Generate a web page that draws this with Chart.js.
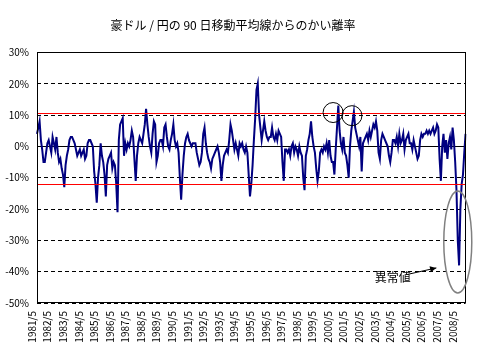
<!DOCTYPE html>
<html><head><meta charset="utf-8">
<script src="https://cdn.jsdelivr.net/npm/chart.js@4/dist/chart.umd.min.js"></script>
<style>html,body{margin:0;padding:0;background:#fff;}#wrap{width:478px;height:355px;}</style>
</head><body><div id="wrap"><canvas id="c" width="478" height="355"></canvas></div>
<script>
const titleText = '豪ドル / 円の 90 日移動平均線からのかい離率';
const yearLabels = ['1981/5','1982/5','1983/5','1984/5','1985/5','1986/5','1987/5','1988/5','1989/5','1990/5',
  '1991/5','1992/5','1993/5','1994/5','1995/5','1996/5','1997/5','1998/5','1999/5','2000/5',
  '2001/5','2002/5','2003/5','2004/5','2005/5','2006/5','2007/5','2008/5'];
// monthly deviation (%) from 90-day MA, each row = May..Apr
const y1981 = [4, 6, 8, 2, -1, -5, -5, -2, 1, 2, 0, -2];
const y1982 = [3, 1, -1, 3, -2, -5, -4, -7, -9, -13, -6, -3];
const y1983 = [-1, 2, 3, 3, 2, 1, -1, -3, -2, -1, -3, -2];
const y1984 = [-1, -4, -3, 1, 2, 2, 1, 0, -8, -12, -18, -10];
const y1985 = [-6, 1, -3, -5, -9, -16, -6, -4, -3, -2, -7, -5];
const y1986 = [-6, -12, -21, 2, 7, 8, 9, -3, 1, -1, 1, 0];
const y1987 = [2, 5, 3, -4, -11, -3, 1, 3, 2, 1, 4, 7];
const y1988 = [12, 7, 3, 0, -2, 4, 8, 7, -5, -3, 1, 2];
const y1989 = [2, 0, 6, 7, 3, 0, -1, 2, 4, 7, 2, 0];
const y1990 = [1, -2, -10, -17, -9, -3, 1, 3, 4, 2, 1, 0];
const y1991 = [1, 1, 1, -2, -4, -6, -5, -2, 4, 6, 1, -2];
const y1992 = [-4, -5, -7, -4, -3, -2, -1, 0, -2, -5, -11, -6];
const y1993 = [-3, -2, -1, -2, 2, 7, 5, 2, -1, 1, -1, -3];
const y1994 = [1, 0, 1, -1, -2, 0, -2, -9, -16, -12, -6, 2];
const y1995 = [9, 18, 20, 10, 6, 2, 5, 8, 5, 3, 2, 3];
const y1996 = [3, 6, 3, 2, 4, 2, 5, 4, 3, -5, -11, -1];
const y1997 = [-1, -2, -1, -3, 0, 1, -2, 0, -1, -3, 0, -2];
const y1998 = [-3, -10, -14, -3, -1, 2, 4, 8, 3, 0, -2, -7];
const y1999 = [-11, -8, -2, -1, -2, 0, -1, 1, -2, 2, -3, -5];
const y2000 = [-5, -9, -1, 6, 13, 5, 1, -1, 3, -2, -3, -6];
const y2001 = [-10, 0, 5, 8, 11, 6, 4, 2, 0, 3, -8, 1];
const y2002 = [2, 3, 4, 2, 5, 3, 5, 7, 6, 8, 5, -2];
const y2003 = [-4, 2, 4, 3, 2, 1, 0, -3, -5, -2, 2, 2];
const y2004 = [1, 3, 0, 4, 1, 2, 4, -1, 2, 3, 4, 1];
const y2005 = [1, -1, 2, 0, -2, -4, -3, 2, 4, 3, 4, 4];
const y2006 = [5, 4, 5, 4, 5, 6, 4, 5, 7, 6, -4, -11];
const y2007 = [0, 4, -2, 2, -4, 1, 3, -1, 6, 2, -5, -14];
const y2008 = [-30, -38, -20, -12, -9, -2, 4];
const deviation = [].concat(y1981,y1982,y1983,y1984,y1985,y1986,y1987,y1988,y1989,y1990,
  y1991,y1992,y1993,y1994,y1995,y1996,y1997,y1998,y1999,y2000,
  y2001,y2002,y2003,y2004,y2005,y2006,y2007,y2008);
const startYear = 1981, startMonth = 5;
const categories = deviation.map((_, i) => {
  const m = startMonth - 1 + i;
  return (startYear + Math.floor(m / 12)) + '/' + (m % 12 + 1);
});
const upperRef = 10.8, lowerRef = -11.9;
const yMin = -50, yMax = 30, yStep = 10;
// annotations: [category index, value]
const circleMarks = [[228, 10.8], [242.5, 9.8]];
const ellipseMark = [324, -30.5];
const noteText = '異常値';
const notePos = [274, -41.9];
const arrowFrom = [285, -40.9], arrowTo = [307.5, -38.8];

const FONT = '"Noto Sans CJK JP", "DejaVu Sans", sans-serif';

const overlay = {
  id: 'overlay',
  beforeDatasetsDraw(chart) {
    const {ctx, chartArea: a, scales: {y}} = chart;
    const py = Math.round(y.getPixelForValue(0)) + 0.5;
    ctx.save();
    ctx.strokeStyle = '#000'; ctx.lineWidth = 1;
    ctx.beginPath(); ctx.moveTo(a.left, py); ctx.lineTo(a.right, py); ctx.stroke();
    ctx.restore();
  },
  afterDatasetsDraw(chart) {
    const {ctx, chartArea: a, scales: {x, y}} = chart;
    const px = v => x.getPixelForValue(v);
    const py = v => y.getPixelForValue(v);
    ctx.save();
    ctx.strokeStyle = '#ff0000'; ctx.lineWidth = 1;
    [upperRef, lowerRef].forEach(v => {
      const yy = Math.round(py(v)) + 0.5;
      ctx.beginPath(); ctx.moveTo(a.left, yy); ctx.lineTo(a.right, yy); ctx.stroke();
    });
    ctx.strokeStyle = '#000'; ctx.lineWidth = 1;
    ctx.strokeRect(Math.round(a.left) + 0.5, Math.round(a.top) + 0.5,
      Math.round(a.right - a.left) - 1, Math.round(a.bottom - a.top) - 1);
    circleMarks.forEach(([cx, cy]) => {
      ctx.beginPath(); ctx.arc(px(cx), py(cy), 10, 0, Math.PI * 2); ctx.stroke();
    });
    ctx.strokeStyle = '#808080'; ctx.lineWidth = 1.5;
    ctx.beginPath(); ctx.ellipse(px(ellipseMark[0]), py(ellipseMark[1]), 14, 51, 0, 0, Math.PI * 2); ctx.stroke();
    const x1 = px(arrowFrom[0]), y1 = py(arrowFrom[1]), x2 = px(arrowTo[0]), y2 = py(arrowTo[1]);
    ctx.strokeStyle = '#000'; ctx.fillStyle = '#000'; ctx.lineWidth = 1;
    ctx.beginPath(); ctx.moveTo(x1, y1); ctx.lineTo(x2, y2); ctx.stroke();
    const ang = Math.atan2(y2 - y1, x2 - x1);
    ctx.beginPath();
    ctx.moveTo(x2, y2);
    ctx.lineTo(x2 - 7 * Math.cos(ang - 0.45), y2 - 7 * Math.sin(ang - 0.45));
    ctx.lineTo(x2 - 7 * Math.cos(ang + 0.45), y2 - 7 * Math.sin(ang + 0.45));
    ctx.closePath(); ctx.fill();
    ctx.font = '12px ' + FONT; ctx.textAlign = 'center'; ctx.textBaseline = 'middle';
    ctx.fillText(noteText, px(notePos[0]), py(notePos[1]));
    ctx.restore();
  }
};

new Chart(document.getElementById('c'), {
  type: 'line',
  data: {
    labels: categories,
    datasets: [{
      data: deviation,
      borderColor: '#000080', borderWidth: 2,
      pointRadius: 0, fill: false, tension: 0
    }]
  },
  options: {
    responsive: false, animation: false, devicePixelRatio: 1,
    layout: {padding: {left: 0, right: 12, top: 0, bottom: 0}},
    plugins: {
      legend: {display: false}, tooltip: {enabled: false},
      title: {display: true, text: titleText, color: '#000',
        font: {size: 12, family: FONT, weight: 'normal'}, padding: {top: 18, bottom: 20}}
    },
    scales: {
      x: {
        type: 'category',
        grid: {display: false, drawTicks: false},
        border: {display: false},
        ticks: {
          autoSkip: false, minRotation: 90, maxRotation: 90, padding: 8, labelOffset: -5,
          color: '#000', font: {size: 10, family: FONT},
          callback(v) { const l = this.getLabelForValue(v); return yearLabels.includes(l) ? l : null; }
        },
        afterFit(s) { s.height = 52; }
      },
      y: {
        min: yMin, max: yMax,
        ticks: {stepSize: yStep, padding: 8, color: '#000', font: {size: 10, family: FONT},
          callback: v => v + '%'},
        grid: {color: '#000', lineWidth: 1, drawTicks: false},
        border: {display: false, dash: [4, 3]},
        afterFit(s) { s.width = 37; }
      }
    }
  },
  plugins: [overlay]
});
</script></body></html>
